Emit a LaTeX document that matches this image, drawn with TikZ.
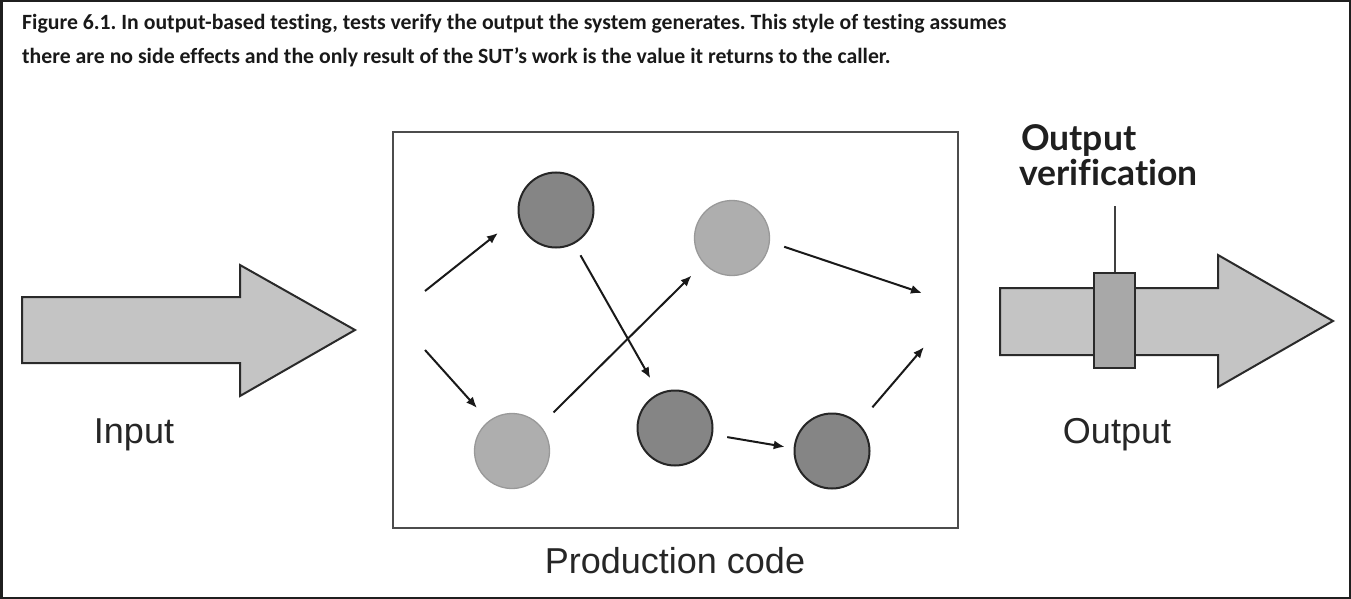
\documentclass[tikz,border=0pt]{standalone}
\usepackage{fontspec}
\setmainfont{Liberation Sans}
\newfontfamily\capfont[Ligatures=NoCommon]{Carlito}
\newfontfamily\verfont[Ligatures=NoCommon]{Lato}
\usetikzlibrary{arrows.meta}
\definecolor{shaft}{HTML}{C4C4C4}
\definecolor{verbox}{HTML}{A8A8A8}
\definecolor{darkdot}{HTML}{858585}
\definecolor{lightdot}{HTML}{AEAEAE}
\definecolor{edge}{HTML}{2A2A2A}
\tikzset{
  bigarrow/.style={draw=edge, line width=2pt, fill=shaft, line join=miter},
  darknode/.style={circle, draw=black!85, line width=2pt, fill=darkdot, minimum size=75pt, inner sep=0pt},
  lightnode/.style={circle, draw=black!40, line width=1.3pt, fill=lightdot, minimum size=75pt, inner sep=0pt},
  flow/.style={draw=black!90, line width=2pt, -{Latex[length=11pt,width=9pt]}},
  lbl/.style={anchor=base, inner sep=0pt, font=\fontsize{36}{40}\selectfont, text=black!85},
  captext/.style={anchor=base west, inner sep=0pt, font=\capfont\bfseries\fontsize{21.75}{24}\selectfont, text=black!90},
  verlbl/.style={anchor=base west, inner sep=0pt, font=\verfont\bfseries\fontsize{35.5}{38}\selectfont, text=black!88},
}
\frenchspacing
\begin{document}
\begin{tikzpicture}[x=1pt, y=-1pt]
\useasboundingbox (0,0) rectangle (1351,599);
\draw[draw=black!88, line width=2.5pt] (1.25,1.25) rectangle (1349.75,597.75);
% caption
\node[captext] (cap1) at (22,29.3) {Figure 6.1. In output-based testing, tests verify the output the system generates. This style of testing assumes};
\node[captext] (cap2) at (22,63.3) {there are no side effects and the only result of the SUT’s work is the value it returns to the caller.};
% input arrow
\draw[bigarrow] (22,297) -- (240,297) -- (240,265) -- (355,330) -- (240,396) -- (240,363) -- (22,363) -- cycle;
\node[lbl] (input) at (134,443) {Input};
% production box
\draw[draw=black!70, line width=2.5pt] (393,132) rectangle (958,528);
\node[lbl] (prod) at (675,573) {Production code};
% circles
\node[darknode] (c1) at (556,210) {};
\node[lightnode] (c2) at (732,238) {};
\node[lightnode] (c3) at (512,451) {};
\node[darknode] (c4) at (675,428) {};
\node[darknode] (c5) at (832,451) {};
% free ends
\coordinate (in1s) at (425,291);
\coordinate (in1e) at (498,233);
\coordinate (in2s) at (425,350);
\coordinate (in2e) at (477,408);
\coordinate (out1) at (922,293);
\coordinate (out2) at (924,347);
% flows
\draw[flow] (in1s) -- (in1e);
\draw[flow] (in2s) -- (in2e);
\draw[flow, shorten <=13pt, shorten >=17pt] (c1.-62) -- (c4.115);
\draw[flow, shorten <=18.5pt, shorten >=17pt] (c3.42) -- (c2.-138);
\draw[flow, shorten <=14.5pt, shorten >=9pt] (c4.-10) -- (c5.176);
\draw[flow, shorten <=15pt] (c2.-6) -- (out1);
\draw[flow, shorten <=21pt] (c5.46) -- (out2);
% output arrow
\draw[bigarrow] (1000,288) -- (1218,288) -- (1218,255) -- (1333,321) -- (1218,387) -- (1218,355) -- (1000,355) -- cycle;
\node[draw=edge, line width=2pt, fill=verbox, minimum width=41pt, minimum height=95pt, inner sep=0pt] (ver) at (1114.5,320.5) {};
\coordinate (vtop) at (1114.5,206);
\draw[draw=black!75, line width=2pt] (ver.north) -- (vtop);
\node[verlbl] (vlab1) at (1021,150) {Output};
\node[verlbl] (vlab2) at (1019,185) {verification};
\node[lbl] (output) at (1117,443) {Output};
\end{tikzpicture}
\end{document}
